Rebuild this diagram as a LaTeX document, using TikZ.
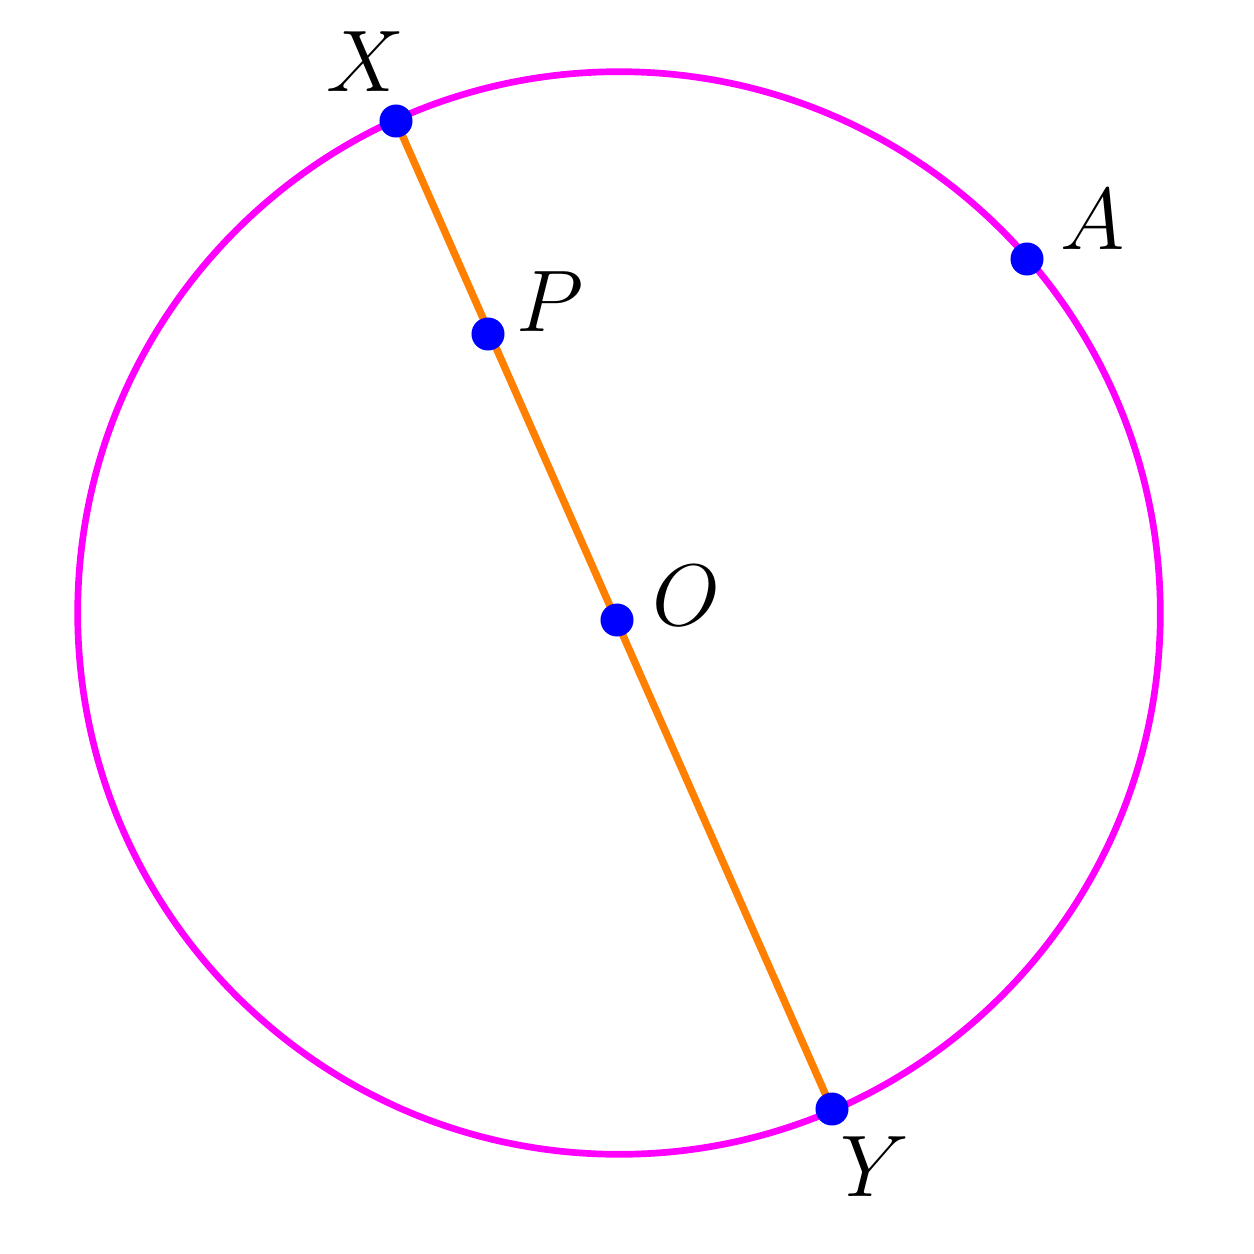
\documentclass[tikz,border=0pt]{standalone}
\definecolor{mag}{RGB}{255,0,255}
\definecolor{orng}{RGB}{255,128,0}
\definecolor{blu}{RGB}{0,0,255}
\begin{document}
\begin{tikzpicture}[x=0.01cm,y=-0.01cm,
  pt/.style={circle,fill=blu,inner sep=0pt,minimum size=0.33cm},
  lbl/.style={font=\fontsize{23}{28}\selectfont},
  circ/.style={draw=mag,line width=1.9pt},
  chord/.style={draw=orng,line width=2.1pt}]
\useasboundingbox (0,0) rectangle (1254,1254);
\coordinate (C) at (619,613);
\draw[circ] (C) circle[radius=5.41cm];
\coordinate (X) at (396,121);
\coordinate (Y) at (832,1109);
\draw[chord] (X) -- (Y);
\node[pt] (nX) at (X) {};
\node[pt] (nY) at (Y) {};
\node[pt] (P) at (488,334) {};
\node[pt] (O) at (617,620) {};
\node[pt] (A) at (1027,259) {};
\node[lbl] (lX) at (365,62) {$X$};
\node[lbl] (lP) at (550,302) {$P$};
\node[lbl] (lA) at (1093,220) {$A$};
\node[lbl] (lO) at (686,596) {$O$};
\node[lbl] (lY) at (875,1167) {$Y$};
\end{tikzpicture}
\end{document}
